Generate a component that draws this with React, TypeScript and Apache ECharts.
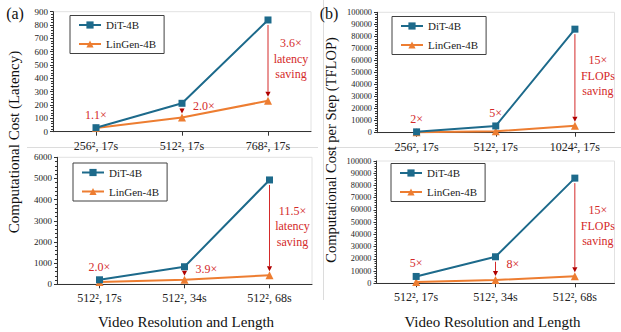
import React, { useEffect, useRef } from "react";
import * as echarts from "echarts";

// ---------- data ----------
const categoriesTL = ["256², 17s", "512², 17s", "768², 17s"];
const ditTL = [30, 213, 838];
const linTL = [27, 106, 232];
const ratiosTL = ["1.1×", "2.0×", "3.6×"];

const categoriesBL = ["512², 17s", "512², 34s", "512², 68s"];
const ditBL = [213, 830, 4930];
const linBL = [106, 213, 428];
const ratiosBL = ["2.0×", "3.9×", "11.5×"];

const categoriesTR = ["256², 17s", "512², 17s", "1024², 17s"];
const ditTR = [700, 5600, 86000];
const linTR = [350, 1120, 5730];
const ratiosTR = ["2×", "5×", "15×"];

const categoriesBR = ["512², 17s", "512², 34s", "512², 68s"];
const ditBR = [5600, 21700, 86000];
const linBR = [1120, 2710, 5730];
const ratiosBR = ["5×", "8×", "15×"];

const yTicksTL = { min: 0, max: 900, interval: 100 };
const yTicksBL = { min: 0, max: 6000, interval: 1000 };
const yTicksR = { min: 0, max: 100000, interval: 10000 };

// ---------- styles ----------
const SERIF = "Liberation Serif";
const BLUE = "#1d6a8b";
const ORANGE = "#ed7d31";
const RED = "#d42a2a";
const AXIS = "#333";

const panels = [
  {
    cats: categoriesTL, dit: ditTL, lin: linTL, ratios: ratiosTL, y: yTicksTL,
    grid: { left: 53, top: 11.7, width: 258, height: 120 },
    legend: { left: 70, top: 15.5 },
    modes: ["above", "arrow", "big"], saving: "latency\nsaving", labelSize: 9,
  },
  {
    cats: categoriesBL, dit: ditBL, lin: linBL, ratios: ratiosBL, y: yTicksBL,
    grid: { left: 57, top: 157.3, width: 255, height: 127 },
    legend: { left: 73, top: 163 },
    modes: ["above", "arrow", "big"], saving: "latency\nsaving", labelSize: 9,
  },
  {
    cats: categoriesTR, dit: ditTR, lin: linTR, ratios: ratiosTR, y: yTicksR,
    grid: { left: 377, top: 12.3, width: 237.5, height: 120.4 },
    legend: { left: 392, top: 16.5 },
    modes: ["above", "above", "big"], saving: "FLOPs\nsaving", labelSize: 8.3,
  },
  {
    cats: categoriesBR, dit: ditBR, lin: linBR, ratios: ratiosBR, y: yTicksR,
    grid: { left: 376.5, top: 161, width: 238, height: 122.3 },
    legend: { left: 391, top: 163.5 },
    modes: ["above", "arrow", "big"], saving: "FLOPs\nsaving", labelSize: 8.3,
  },
];

function buildOption() {
  const grid: any[] = [];
  const xAxis: any[] = [];
  const yAxis: any[] = [];
  const series: any[] = [];
  const legend: any[] = [];

  panels.forEach((p, k) => {
    grid.push({
      ...p.grid,
      show: true,
      borderColor: "#e2e2e2",
      borderWidth: 1,
      backgroundColor: "transparent",
    });
    xAxis.push({
      type: "category",
      gridIndex: k,
      data: p.cats,
      boundaryGap: true,
      axisLine: { show: true, lineStyle: { color: AXIS, width: 1 } },
      axisTick: { show: true, alignWithLabel: true, length: 4, lineStyle: { color: AXIS } },
      axisLabel: { fontFamily: SERIF, fontSize: 12, color: "#222", margin: 8 },
      splitLine: { show: false },
    });
    yAxis.push({
      type: "value",
      gridIndex: k,
      min: p.y.min,
      max: p.y.max,
      interval: p.y.interval,
      axisLine: { show: true, lineStyle: { color: AXIS, width: 1 } },
      axisTick: { show: true, length: 3, lineStyle: { color: AXIS } },
      minorTick: { show: true, splitNumber: 5, length: 2, lineStyle: { color: AXIS } },
      axisLabel: {
        fontFamily: SERIF, fontSize: p.labelSize, color: "#222", margin: 5,
        formatter: (v: number) => String(v),
      },
      splitLine: { show: false },
      minorSplitLine: { show: false },
    });
    series.push({
      name: "DiT-4B",
      type: "line",
      xAxisIndex: k,
      yAxisIndex: k,
      data: p.dit,
      symbol: "rect",
      symbolSize: 7,
      lineStyle: { color: BLUE, width: 2 },
      itemStyle: { color: BLUE },
      z: 3,
    });
    series.push({
      name: "LinGen-4B",
      type: "line",
      xAxisIndex: k,
      yAxisIndex: k,
      data: p.lin,
      symbol: "triangle",
      symbolSize: 8,
      lineStyle: { color: ORANGE, width: 2 },
      itemStyle: { color: ORANGE },
      z: 2,
    });
    const modes = p.modes;
    const ratios = p.ratios;
    const saving = p.saving;
    series.push({
      type: "custom",
      xAxisIndex: k,
      yAxisIndex: k,
      silent: true,
      clip: false,
      z: 5,
      data: p.cats.map((_, i) => [i, p.dit[i], p.lin[i]]),
      renderItem: (params: any, api: any) => {
        const idx = params.dataIndex;
        const mode = modes[idx];
        const p1 = api.coord([api.value(0), api.value(1)]);
        const p2 = api.coord([api.value(0), api.value(2)]);
        const x = p1[0];
        const children: any[] = [];
        if (mode === "above") {
          children.push({
            type: "text",
            style: {
              text: ratios[idx], x, y: p1[1] - 13,
              fill: RED, fontSize: 12, fontFamily: SERIF,
              align: "center", verticalAlign: "middle",
              textAlign: "center", textVerticalAlign: "middle",
            },
          });
        } else {
          const start = p1[1] + 5;
          const tip = p2[1] - 4;
          const headTop = tip - 5;
          children.push({
            type: "line",
            shape: { x1: x, y1: start, x2: x, y2: Math.max(start, headTop) },
            style: { stroke: RED, lineWidth: 1 },
          });
          children.push({
            type: "polygon",
            shape: { points: [[x - 2.6, headTop], [x + 2.6, headTop], [x, tip]] },
            style: { fill: "#b00000" },
          });
          if (mode === "arrow") {
            children.push({
              type: "text",
              style: {
                text: ratios[idx], x: x + 11, y: (p1[1] + p2[1]) / 2 - 4,
                fill: RED, fontSize: 12, fontFamily: SERIF,
                align: "left", verticalAlign: "middle",
                textAlign: "left", textVerticalAlign: "middle",
              },
            });
          } else {
            children.push({
              type: "text",
              style: {
                text: ratios[idx] + "\n" + saving, x: x + 23, y: (start + tip) / 2 - 2,
                fill: RED, fontSize: 12, fontFamily: SERIF, lineHeight: 15.5,
                align: "center", verticalAlign: "middle",
                textAlign: "center", textVerticalAlign: "middle",
              },
            });
          }
        }
        return { type: "group", children };
      },
    });
    legend.push({
      ...p.legend,
      orient: "vertical",
      data: ["DiT-4B", "LinGen-4B"],
      itemWidth: 22,
      itemHeight: 9,
      itemGap: 8,
      padding: [4, 8, 4, 8],
      borderColor: "#404040",
      borderWidth: 1,
      borderRadius: 0,
      backgroundColor: "#fff",
      selectedMode: false,
      textStyle: { fontFamily: SERIF, fontSize: 11, color: "#222" },
    });
  });

  const faint = { stroke: "#dcdcdc", lineWidth: 1 };
  const graphic: any[] = [
    { type: "line", shape: { x1: 27, y1: 147.5, x2: 318, y2: 147.5 }, style: faint, z: -1 },
    { type: "line", shape: { x1: 328, y1: 147.5, x2: 621, y2: 147.5 }, style: faint, z: -1 },
    { type: "line", shape: { x1: 323.5, y1: 0, x2: 323.5, y2: 300 }, style: faint, z: -1 },
    {
      type: "text", x: 15, y: 13,
      style: { text: "(a)", fontSize: 16, fontFamily: SERIF, fill: "#111", textAlign: "center", textVerticalAlign: "middle" },
    },
    {
      type: "text", x: 329, y: 13.5,
      style: { text: "(b)", fontSize: 16, fontFamily: SERIF, fill: "#111", textAlign: "center", textVerticalAlign: "middle" },
    },
    {
      type: "text", x: 14, y: 142, rotation: Math.PI / 2,
      style: { text: "Computational Cost (Latency)", fontSize: 15, fontFamily: SERIF, fill: "#111", textAlign: "center", textVerticalAlign: "middle" },
    },
    {
      type: "text", x: 331, y: 150, rotation: Math.PI / 2,
      style: { text: "Computational Cost per Step (TFLOP)", fontSize: 14.5, fontFamily: SERIF, fill: "#111", textAlign: "center", textVerticalAlign: "middle" },
    },
    {
      type: "text", x: 186, y: 322,
      style: { text: "Video Resolution and Length", fontSize: 15, fontFamily: SERIF, fill: "#111", textAlign: "center", textVerticalAlign: "middle" },
    },
    {
      type: "text", x: 492.5, y: 322,
      style: { text: "Video Resolution and Length", fontSize: 15, fontFamily: SERIF, fill: "#111", textAlign: "center", textVerticalAlign: "middle" },
    },
  ];

  return {
    animation: false,
    backgroundColor: "#fff",
    textStyle: { fontFamily: SERIF },
    grid,
    xAxis,
    yAxis,
    series,
    legend,
    graphic,
  };
}

export default function App() {
  const ref = useRef<HTMLDivElement>(null);
  useEffect(() => {
    if (!ref.current) return;
    const chart = echarts.init(ref.current, undefined, { renderer: "svg" });
    chart.setOption(buildOption() as any);
    return () => chart.dispose();
  }, []);
  return (
    <div
      ref={ref}
      style={{ position: "fixed", left: 0, top: 0, width: 621, height: 332, background: "#fff" }}
    />
  );
}
